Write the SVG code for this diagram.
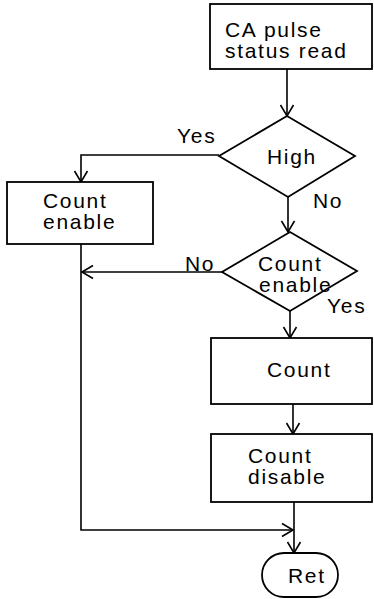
<svg xmlns="http://www.w3.org/2000/svg" width="374" height="599" viewBox="0 0 374 599">
<style>
.box{fill:#fff;stroke:#000;stroke-width:1.8}
.ln{fill:none;stroke:#000;stroke-width:1.6}
text{font-family:"Liberation Sans",Arial,sans-serif;font-size:21px;letter-spacing:1.7px;fill:#000}
</style>
<defs>
<marker id="ah" markerUnits="userSpaceOnUse" markerWidth="16" markerHeight="16" refX="0" refY="0" viewBox="-12 -8 14 16" orient="auto" overflow="visible">
<path d="M-11,-6.5 L0,0 L-11,6.5" fill="none" stroke="#000" stroke-width="1.6"/>
</marker>
</defs>
<rect width="374" height="599" fill="#fff"/>
<g id="connectors">
<path class="ln" d="M287,69 V116" marker-end="url(#ah)"/>
<path class="ln" d="M219,155 H81 V182" marker-end="url(#ah)"/>
<path class="ln" d="M288,197 V232" marker-end="url(#ah)"/>
<path class="ln" d="M222,272 H82" marker-end="url(#ah)"/>
<path class="ln" d="M290,311 V338" marker-end="url(#ah)"/>
<path class="ln" d="M293,404 V434" marker-end="url(#ah)"/>
<path class="ln" d="M294,502 V553" marker-end="url(#ah)"/>
<path class="ln" d="M81,244 V530 H293" marker-end="url(#ah)"/>
</g>
<g id="read">
<rect class="box" x="210" y="4" width="162" height="65"/>
<text x="225" y="37">CA pulse</text>
<text x="225" y="58">status read</text>
</g>
<g id="high">
<polygon class="box" points="287,116 355,156 288,197 219,156"/>
<text x="267" y="164">High</text>
<text x="177" y="143">Yes</text>
<text x="313" y="208">No</text>
</g>
<g id="enable">
<rect class="box" x="7" y="182" width="146" height="62"/>
<text x="43" y="208">Count</text>
<text x="43" y="229">enable</text>
</g>
<g id="check">
<polygon class="box" points="290,232 357,271 290,311 222,272"/>
<text x="258" y="271">Count</text>
<text x="259" y="292">enable</text>
<text x="185" y="271">No</text>
<text x="327" y="313">Yes</text>
</g>
<g id="count">
<rect class="box" x="211" y="338" width="161" height="66"/>
<text x="267" y="377">Count</text>
</g>
<g id="disable">
<rect class="box" x="211" y="434" width="161" height="68"/>
<text x="248" y="463">Count</text>
<text x="248" y="484">disable</text>
</g>
<g id="ret">
<rect class="box" x="262" y="553" width="76" height="44" rx="22" ry="22"/>
<text x="288" y="583">Ret</text>
</g>
</svg>
